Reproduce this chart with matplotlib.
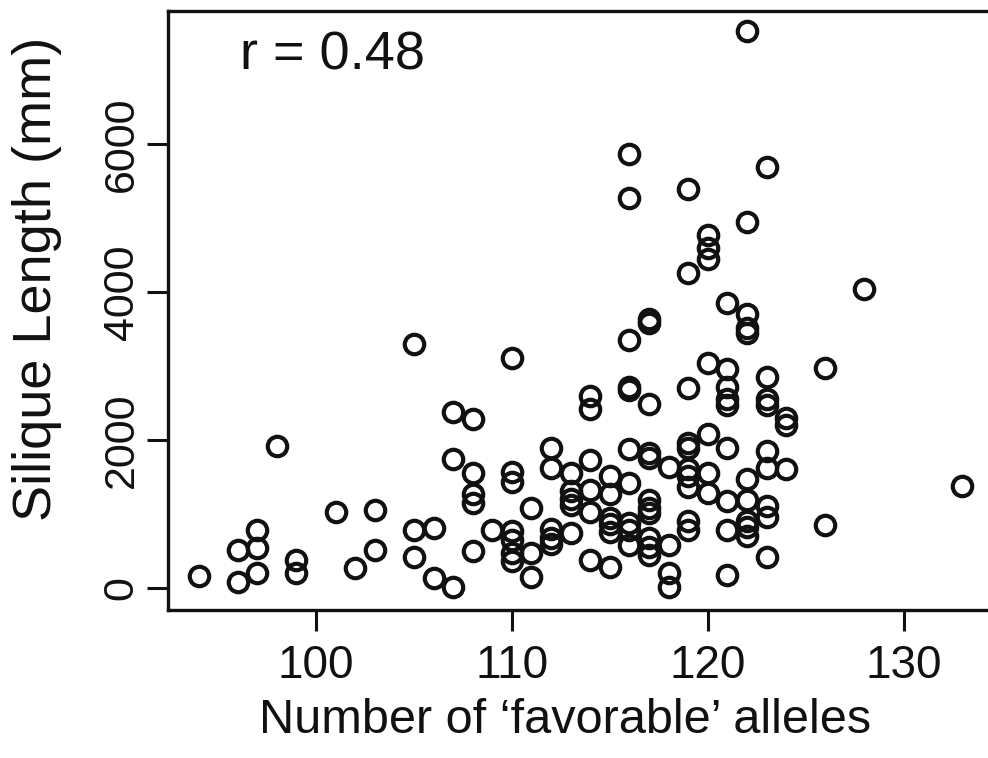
import matplotlib
matplotlib.use('Agg')
import matplotlib.pyplot as plt

# values, grouped by allele count
alleles = [94,
           96, 96,
           97, 97, 97,
           98,
           99, 99,
           101,
           102,
           103, 103,
           105, 105, 105,
           106, 106,
           107, 107, 107,
           108, 108, 108, 108, 108,
           109,
           110, 110, 110, 110, 110, 110, 110,
           111, 111, 111,
           112, 112, 112, 112, 112,
           113, 113, 113, 113, 113,
           114, 114, 114, 114, 114, 114,
           115, 115, 115, 115, 115, 115,
           116, 116, 116, 116, 116, 116, 116, 116, 116, 116,
           117, 117, 117, 117, 117, 117, 117, 117, 117, 117, 117,
           118, 118, 118, 118,
           119, 119, 119, 119, 119, 119, 119, 119, 119, 119,
           120, 120, 120, 120, 120, 120, 120,
           121, 121, 121, 121, 121, 121, 121, 121, 121,
           122, 122, 122, 122, 122, 122, 122, 122, 122, 122,
           123, 123, 123, 123, 123, 123, 123, 123, 123,
           124, 124, 124,
           126, 126,
           128,
           133]

silique = [160,
           510, 80,
           780, 540, 200,
           1920,
           380, 200,
           1030,
           270,
           1050, 510,
           3300, 780, 420,
           810, 130,
           2380, 1740, 10,
           2290, 1550, 1270, 1150, 500,
           780,
           3110, 1570, 1440, 770, 650, 470, 370,
           1080, 470, 150,
           1900, 1620, 800, 680, 600,
           1560, 1310, 1210, 1120, 740,
           2600, 2420, 1730, 1320, 1030, 380,
           1520, 1270, 950, 860, 760, 280,
           5870, 5280, 3360, 2720, 2680, 1880, 1420, 880, 790, 580,
           3640, 3580, 2490, 1820, 1760, 1190, 1080, 1010, 680, 550, 450,
           1640, 580, 200, 10,
           5400, 4260, 2710, 1960, 1890, 1610, 1520, 1360, 910, 790,
           4780, 4600, 4450, 3040, 2090, 1550, 1280,
           3860, 2960, 2720, 2560, 2480, 1900, 1180, 780, 180,
           7530, 4950, 3700, 3520, 3450, 1470, 1190, 910, 820, 710,
           5690, 2850, 2560, 2480, 1850, 1630, 1110, 960, 420,
           2300, 2200, 1610,
           2980, 850,
           4040,
           1380]

x_ticks = [100, 110, 120, 130]
y_ticks = [0, 2000, 4000, 6000]
r_label = 'r = 0.48'

plt.rcParams['font.family'] = ['Liberation Sans', 'DejaVu Sans']

fig = plt.figure(figsize=(9.88, 7.58), dpi=100)
ax = fig.add_axes([0.170, 0.195, 0.835, 0.790])

ax.plot(alleles, silique, linestyle='none', marker='o', ms=14,
        mfc='none', mec='#111111', mew=3.0)

ax.set_xlim(92.44, 134.56)
ax.set_ylim(-300, 7800)
ax.set_xticks(x_ticks)
ax.set_yticks(y_ticks)

for s in ax.spines.values():
    s.set_linewidth(2.4)
    s.set_color('#111111')

ax.tick_params(axis='both', direction='out', length=15, width=2.2,
               color='#111111', labelcolor='#111111')
ax.tick_params(axis='x', pad=9, labelsize=33)
ax.tick_params(axis='y', pad=4, labelsize=31)
for lab in ax.get_yticklabels():
    lab.set_rotation(90)
    lab.set_va('center')

ax.set_xlabel("Number of \u2018favorable\u2019 alleles", fontsize=35,
              color='#111111')
ax.xaxis.set_label_coords(0.481, -0.147)
ax.set_ylabel('Silique Length (mm)', fontsize=39, color='#111111')
ax.yaxis.set_label_coords(-0.128, 0.554)

ax.text(0.087, 0.903, r_label, transform=ax.transAxes, fontsize=39,
        color='#111111', ha='left', va='baseline')

fig.savefig('out.png', dpi=100)
